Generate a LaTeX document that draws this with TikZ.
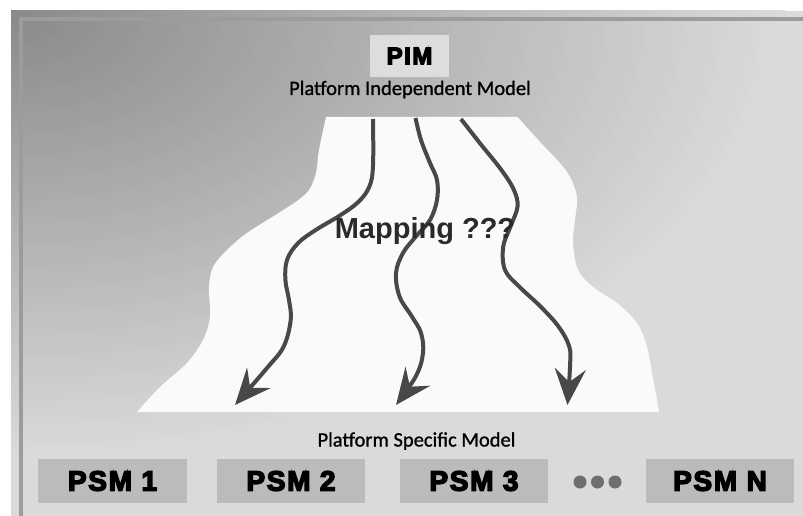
\documentclass[tikz,border=0pt]{standalone}
\usepackage{fontspec}
\usetikzlibrary{arrows.meta}
\newfontfamily\labelfont[FakeBold=1]{Carlito}
\newfontfamily\heavyfont[FakeBold=5,LetterSpace=6]{Liberation Sans Bold}
\newfontfamily\mapfont{Liberation Sans Bold}
\definecolor{bgA}{HTML}{8A8A8A}
\definecolor{bgB}{HTML}{DADADA}
\definecolor{framegray}{HTML}{9C9C9C}
\definecolor{shapewhite}{HTML}{FAFAFA}
\definecolor{arrowgray}{HTML}{484848}
\definecolor{pimfill}{HTML}{DDDDDD}
\definecolor{psmfill}{HTML}{BBBBBB}
\definecolor{dotgray}{HTML}{6E6E6E}
\definecolor{maptext}{HTML}{2A2A2A}
\tikzset{
  maparrow/.style={draw=arrowgray, line width=4pt, line cap=butt,
    -{Stealth[length=36pt,width=31pt,inset=13pt]}},
  psmbox/.style={fill=psmfill, minimum width=148pt, minimum height=44pt, inner sep=0pt,
    font=\heavyfont\fontsize{28}{30}\selectfont, text=black},
  pimbox/.style={fill=pimfill, minimum width=79pt, minimum height=42pt, inner sep=0pt,
    font=\heavyfont\fontsize{24}{26}\selectfont, text=black},
  modellabel/.style={anchor=base, inner sep=0pt, font=\labelfont\fontsize{20.5}{24}\selectfont, text=black},
  ellipsisdot/.style={circle, fill=dotgray, minimum size=13pt, inner sep=0pt},
}
\begin{document}
\begin{tikzpicture}[x=1pt,y=-1pt]
\useasboundingbox (0,0) rectangle (803,516);
% background: elliptical gradient from the top-left corner
\fill[bgB] (11,11) rectangle (803,516);
\begin{scope}
  \clip (11,11) rectangle (803,516);
  \foreach \i in {0,...,59}{
    \pgfmathsetmacro\p{100*\i/60}
    \pgfmathsetmacro\f{1-\i/60}
    \fill[bgA!\p!bgB] (15,15) ellipse [x radius=770*\f, y radius=445*\f];
  }
\end{scope}
\draw[framegray, line width=4pt] (21,516) -- (21,19) -- (803,19);
% white mapping region
\fill[shapewhite] plot[smooth, tension=0.55] coordinates {(326,117) (319,150) (316,173) (309,190) (297,201) (277,214) (247,233) (227,250) (213,267) (209,287) (210,317) (203,340) (187,363) (160,387) (137,412)}
  -- (659,412)
  -- plot[smooth, tension=0.55] coordinates {(659,412) (657,400) (652,373) (647,347) (637,323) (617,303) (593,287) (578,270) (573,243) (575,220) (577,197) (570,177) (559,162) (541,143) (517.5,117)}
  -- cycle;
% arrow end points
\coordinate (a1s) at (373,119);
\coordinate (a1e) at (235,405);
\coordinate (a2s) at (415.5,118);
\coordinate (a2e) at (396,405);
\coordinate (a3s) at (461,119);
\coordinate (a3e) at (567.5,405);
\draw[maparrow] plot[smooth, tension=0.6] coordinates {(a1s) (373,166) (369.3,186.7) (358.6,201.7) (340.7,215) (315.7,230) (297.9,243.3) (287,260) (285.4,280) (289,300) (290.7,320) (283.6,346.7) (267,368) (a1e)};
\draw[maparrow] plot[smooth, tension=0.6] coordinates {(a2s) (421,140) (430,163) (437,180) (437,200) (430,220) (415.7,236.7) (403,253) (396,273) (399.6,296.7) (412,316.7) (421,333) (423,353) (416,376) (a2e)};
\draw[maparrow] plot[smooth, tension=0.6] coordinates {(a3s) (480,143.3) (501.4,170) (513.9,190) (517.5,206.7) (510.4,226.7) (503.2,246.7) (505,270) (519.3,286.7) (540.7,306.7) (558.6,326.7) (569.3,346.7) (570,366.7) (a3e)};
% mapping text
\node[anchor=base, inner sep=0pt, text=maptext, font=\mapfont\fontsize{29}{32}\selectfont] (map) at (425,238) {Mapping ???};
% PIM
\node[pimbox] (pim) at (409.5,56) {PIM};
\node[modellabel] (pimlabel) at (410,95) {Platform Independent Model};
% PSM
\node[modellabel] (psmlabel) at (416.5,446.5) {Platform Specific Model};
\node[psmbox, minimum width=149pt] (psm1) at (112.5,481) {PSM 1};
\node[psmbox] (psm2) at (291,481) {PSM 2};
\node[psmbox] (psm3) at (474,481) {PSM 3};
\node[psmbox] (psmn) at (720,481) {PSM N};
\node[ellipsisdot] (d1) at (580,482) {};
\node[ellipsisdot] (d2) at (597.5,482) {};
\node[ellipsisdot] (d3) at (615,482) {};
\end{tikzpicture}
\end{document}
